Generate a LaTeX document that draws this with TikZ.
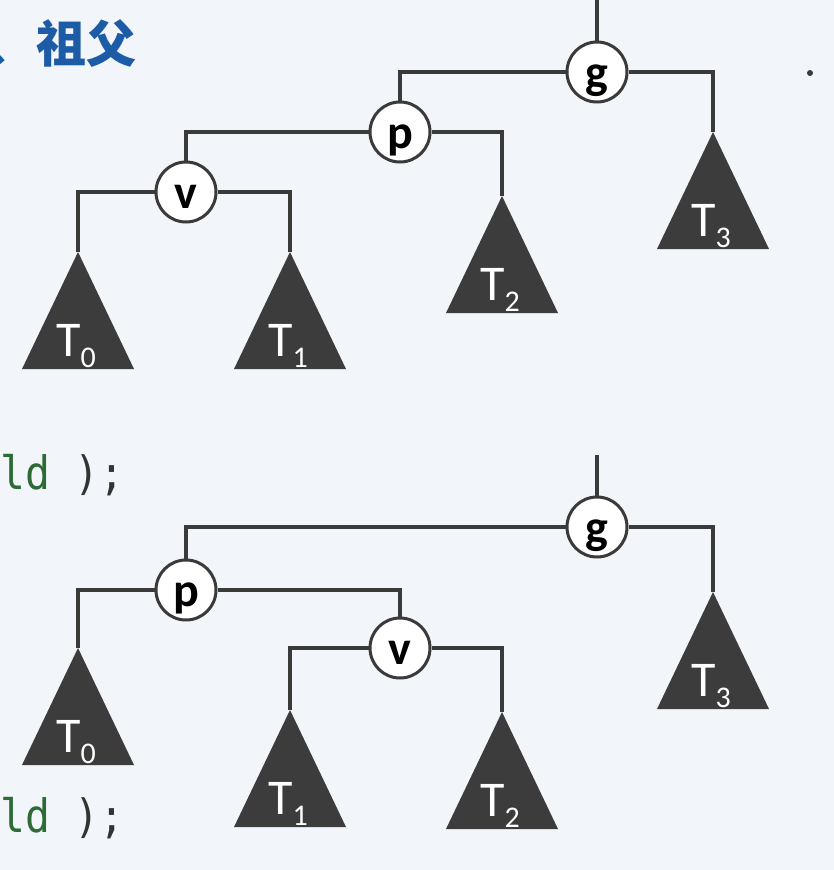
\documentclass[tikz,border=0pt]{standalone}
\usepackage{fontspec}
\setmainfont{Carlito}
\newfontfamily\cjkfont{Noto Sans CJK SC}
\newfontfamily\monofont{DejaVu Sans Mono}
\usetikzlibrary{calc}
\definecolor{bgc}{HTML}{F2F5FA}
\definecolor{linec}{HTML}{3A3A3A}
\definecolor{tric}{HTML}{3C3C3C}
\definecolor{titleblue}{HTML}{1C5BA6}
\definecolor{codegreen}{HTML}{2E6A36}
\definecolor{codegray}{HTML}{333333}
\tikzset{
  vnode/.style={circle, draw=linec, line width=3pt, fill=white, minimum size=60pt,
    inner sep=0pt, text height=32pt, text depth=0pt, text=black,
    font=\fontsize{48}{48}\selectfont\bfseries},
  edge/.style={draw=linec, line width=4pt},
  tri/.style={fill=tric},
  tlab/.style={text=white, inner sep=0pt, font=\fontsize{50}{50}\selectfont},
  code/.style={inner sep=0pt, anchor=base west, xscale=0.9,
    font=\monofont\fontsize{46}{46}\selectfont},
}
\newcommand{\subtree}[3]{%
  \coordinate (#1) at #2;
  \fill[tri] (#1) -- ++(-56,117) -- ++(112,0) -- cycle;
  \node[tlab, anchor=base west] (#1lab) at ($(#1)+(-22,104)$)
    {T\raisebox{-11pt}{\fontsize{30}{30}\selectfont #3}};
}
\begin{document}
\begin{tikzpicture}[x=1pt, y=-1pt]
\useasboundingbox (0,0) rectangle (834,870);
\fill[bgc] (0,0) rectangle (834,870);

% header and code fragments
\node[inner sep=0pt, anchor=base east, text=titleblue]
  (title) at (137,62) {\cjkfont\fontsize{50}{50}\selectfont\bfseries 、祖父};
\node[code] (code1) at (0,489) {\textcolor{codegreen}{ld} \textcolor{codegray}{);}};
\node[code] (code2) at (0,832) {\textcolor{codegreen}{ld} \textcolor{codegray}{);}};
\fill[linec] (810,73) circle (3pt);

% ---------- top tree ----------
\subtree{at0}{(78,252)}{0}
\subtree{at1}{(290,252)}{1}
\subtree{at2}{(502,196)}{2}
\subtree{at3}{(713,132)}{3}
\coordinate (atop) at (597,-5);
\node[vnode] (ag) at (597,72) {g};
\node[vnode] (ap) at (400,132) {p};
\node[vnode] (av) at (186,192) {v};
\draw[edge] (atop) -- (ag);
\draw[edge] (ag.west) -| (ap);
\draw[edge] (ag.east) -| (at3);
\draw[edge] (ap.west) -| (av);
\draw[edge] (ap.east) -| (at2);
\draw[edge] (av.west) -| (at0);
\draw[edge] (av.east) -| (at1);

% ---------- bottom tree ----------
\subtree{bt0}{(78,648)}{0}
\subtree{bt1}{(290,710)}{1}
\subtree{bt2}{(502,712)}{2}
\subtree{bt3}{(713,592)}{3}
\coordinate (btop) at (597,455);
\node[vnode] (bg) at (597,527) {g};
\node[vnode] (bp) at (186,590) {p};
\node[vnode] (bv) at (400,648) {v};
\draw[edge] (btop) -- (bg);
\draw[edge] (bg.west) -| (bp);
\draw[edge] (bg.east) -| (bt3);
\draw[edge] (bp.west) -| (bt0);
\draw[edge] (bp.east) -| (bv);
\draw[edge] (bv.west) -| (bt1);
\draw[edge] (bv.east) -| (bt2);
\end{tikzpicture}
\end{document}
